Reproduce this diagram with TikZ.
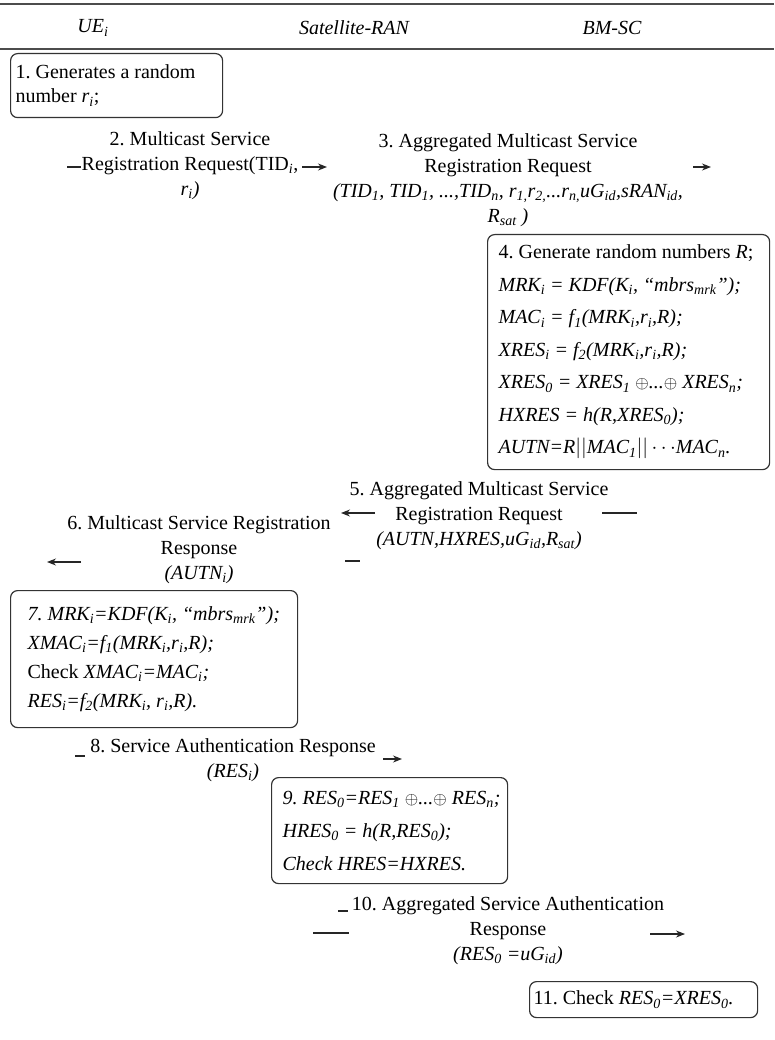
\documentclass[tikz,border=0pt]{standalone}
\usepackage{fontspec}
\setmainfont{Liberation Serif}
\usetikzlibrary{positioning,arrows.meta}
\frenchspacing
\newcommand{\xorop}{{\fontsize{17}{17}\selectfont$\oplus$}}
\tikzset{
  actor/.style={inner sep=0pt,font=\fontsize{20}{24}\selectfont\itshape},
  msg/.style={align=center,inner sep=0pt,font=\fontsize{20}{25}\selectfont\frenchspacing},
  proc/.style={draw=black!80,line width=1.2pt,rounded corners=7pt,
    align=flush left,inner sep=0pt,anchor=north west},
  inset/.style={execute at begin node={\leftskip=#1\relax\frenchspacing}},
  flow/.style={-{Stealth[length=9pt,width=7pt]},line width=1.2pt,black!85},
  stub/.style={line width=1.2pt,black!85},
  rule/.style={line width=1.6pt,black!70}
}
\begin{document}
\begin{tikzpicture}[x=1pt,y=-1pt]
  \useasboundingbox (0,0) rectangle (774,1040);
  % header
  \draw[rule] (0,4) -- (774,4);
  \draw[rule] (0,49) -- (774,49);
  \node[actor] (ue)  at (93,28)  {UE\textsubscript{i}};
  \node[actor] (ran) at (354,28) {Satellite-RAN};
  \node[actor] (bm)  at (612,28) {BM-SC};
  % step 1
  \node[proc,text width=212pt,inset=5pt,minimum height=64pt,
    font=\fontsize{20}{24}\selectfont] (b1) at (10,53)
    {1. Generates a random\\number \textit{r\textsubscript{i}};};
  % steps 2 and 3
  \node[msg] (m2) at (190,166)
    {2. Multicast Service\\Registration Request(TID\textsubscript{\itshape i},\\\textit{r\textsubscript{i})}};
  \node[msg] (m3) at (508,180)
    {3. Aggregated Multicast Service\\Registration Request\\
     \textit{(TID\textsubscript{1}, TID\textsubscript{1}, ...,TID\textsubscript{n}, r\textsubscript{1,}r\textsubscript{2,}...r\textsubscript{n,}uG\textsubscript{id},sRAN\textsubscript{id},}\\
     \textit{R\textsubscript{sat} )}};
  \coordinate (d2a) at (67,167);  \coordinate (d2b) at (81,167);
  \coordinate (a2a) at (302,167); \coordinate (a2b) at (327,167);
  \coordinate (a3a) at (693,167); \coordinate (a3b) at (711,167);
  \draw[stub] (d2a) -- (d2b);
  \draw[flow] (a2a) -- (a2b);
  \draw[flow] (a3a) -- (a3b);
  % step 4
  \node[proc,text width=282pt,inset=11pt,minimum height=235pt,
    font=\fontsize{20}{32.5}\selectfont] (b4) at (487,234)
    {4. Generate random numbers \textit{R};\\
     \textit{MRK\textsubscript{i} = KDF(K\textsubscript{i}, “mbrs\textsubscript{mrk}”);}\\
     \textit{MAC\textsubscript{i} = f\textsubscript{1}(MRK\textsubscript{i},r\textsubscript{i},R);}\\
     \textit{XRES\textsubscript{i} = f\textsubscript{2}(MRK\textsubscript{i},r\textsubscript{i},R);}\\
     \textit{XRES\textsubscript{0} = XRES\textsubscript{1} \xorop...\xorop{} XRES\textsubscript{n};}\\
     \textit{HXRES = h(R,XRES\textsubscript{0});}\\
     \textit{AUTN=R$||$MAC\textsubscript{1}$||\cdots$MAC\textsubscript{n}.}};
  % steps 5 and 6
  \node[msg] (m5) at (479,516)
    {5. Aggregated Multicast Service\\Registration Request\\
     \textit{(AUTN,HXRES,uG\textsubscript{id},R\textsubscript{sat})}};
  \node[msg] (m6) at (199,550)
    {6. Multicast Service Registration\\Response\\\textit{(AUTN\textsubscript{i})}};
  \coordinate (a5a) at (375,513); \coordinate (a5b) at (341,513);
  \coordinate (d5a) at (602,513); \coordinate (d5b) at (637,513);
  \coordinate (a6a) at (81,562);  \coordinate (a6b) at (47,562);
  \coordinate (d6a) at (345,561); \coordinate (d6b) at (360,561);
  \draw[flow] (a5a) -- (a5b);
  \draw[stub] (d5a) -- (d5b);
  \draw[flow] (a6a) -- (a6b);
  \draw[stub] (d6a) -- (d6b);
  % step 7
  \node[proc,text width=287pt,inset=17pt,minimum height=137pt,
    font=\fontsize{20}{29}\selectfont] (b7) at (10,590)
    {\textit{7. MRK\textsubscript{i}=KDF(K\textsubscript{i}, “mbrs\textsubscript{mrk}”);}\\
     \textit{XMAC\textsubscript{i}=f\textsubscript{1}(MRK\textsubscript{i},r\textsubscript{i},R);}\\
     Check \textit{XMAC\textsubscript{i}=MAC\textsubscript{i};}\\
     \textit{RES\textsubscript{i}=f\textsubscript{2}(MRK\textsubscript{i}, r\textsubscript{i},R).}};
  % step 8
  \node[msg] (m8) at (233,760)
    {8. Service Authentication Response\\\textit{(RES\textsubscript{i})}};
  \coordinate (d8a) at (75,756);  \coordinate (d8b) at (85,756);
  \coordinate (a8a) at (383,759); \coordinate (a8b) at (402,759);
  \draw[stub] (d8a) -- (d8b);
  \draw[flow] (a8a) -- (a8b);
  % step 9
  \node[proc,text width=236pt,inset=11pt,minimum height=106pt,
    font=\fontsize{20}{33}\selectfont] (b9) at (271,777)
    {\textit{9. RES\textsubscript{0}=RES\textsubscript{1} \xorop...\xorop{} RES\textsubscript{n};}\\
     \textit{HRES\textsubscript{0} = h(R,RES\textsubscript{0});}\\
     \textit{Check HRES=HXRES.}};
  % step 10
  \node[msg] (m10) at (508,931)
    {10. Aggregated Service Authentication\\Response\\
     \textit{(RES\textsubscript{0} =uG\textsubscript{id})}};
  \coordinate (d10a) at (338,911); \coordinate (d10b) at (348,911);
  \coordinate (e10a) at (313,933); \coordinate (e10b) at (349,933);
  \coordinate (a10a) at (650,934); \coordinate (a10b) at (685,934);
  \draw[stub] (d10a) -- (d10b);
  \draw[stub] (e10a) -- (e10b);
  \draw[flow] (a10a) -- (a10b);
  % step 11
  \node[proc,text width=228pt,inset=4pt,minimum height=36pt,
    font=\fontsize{20}{24}\selectfont] (b11) at (529,981)
    {11. Check \textit{RES\textsubscript{0}=XRES\textsubscript{0}.}};
\end{tikzpicture}
\end{document}
